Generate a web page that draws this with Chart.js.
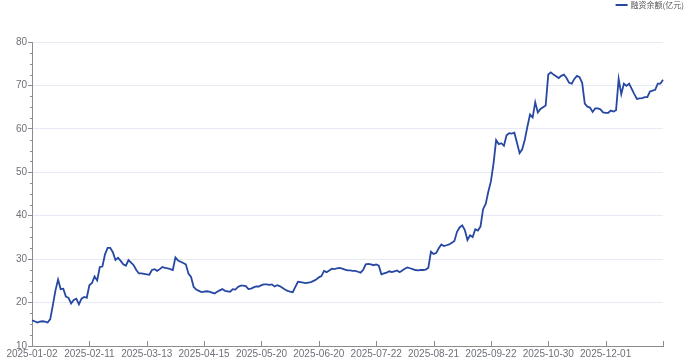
<!DOCTYPE html>
<html>
<head>
<meta charset="utf-8">
<script src="https://cdn.jsdelivr.net/npm/chart.js@4/dist/chart.umd.min.js"></script>
<style>
html,body{margin:0;padding:0;background:#fff;}
#wrap{width:693px;height:362px;position:relative;}
</style>
</head>
<body>
<div id="wrap"><canvas id="c"></canvas></div>
<script>
// Series name
const seriesName = '融资余额(亿元)';

// 2025 A-share market holidays falling on weekdays (market closed)
const holidays = ['2025-01-01','2025-01-28','2025-01-29','2025-01-30','2025-01-31','2025-02-03','2025-02-04',
  '2025-04-04','2025-05-01','2025-05-02','2025-05-05','2025-06-02',
  '2025-10-01','2025-10-02','2025-10-03','2025-10-06','2025-10-07','2025-10-08'];

// Categories: trading days of 2025
const categories = [];
(function(){
  const d = new Date(Date.UTC(2025,0,1));
  while (d.getUTCFullYear() === 2025) {
    const s = d.toISOString().slice(0,10);
    const w = d.getUTCDay();
    if (w !== 0 && w !== 6 && holidays.indexOf(s) < 0) categories.push(s);
    d.setUTCDate(d.getUTCDate()+1);
  }
})();

// Values (亿元)
const values = [
15.9,15.7,15.4,15.6,15.7,15.6,15.4,16.2,19.4,22.8,
25.3,23.1,23.2,21.4,21.1,19.8,20.6,20.9,19.6,20.9,
21.3,21.1,24.0,24.5,26.0,25.1,28.2,28.3,31.1,32.6,
32.6,31.6,29.8,30.3,29.6,28.8,28.5,29.8,29.2,28.6,
27.5,26.7,26.7,26.6,26.5,26.4,27.5,27.7,27.3,27.7,
28.2,28.0,27.9,27.7,27.5,30.4,29.7,29.4,29.1,28.8,
26.7,25.9,23.6,23.0,22.7,22.4,22.5,22.6,22.5,22.3,
22.1,22.5,22.8,23.1,22.7,22.6,22.5,23.1,23.0,23.6,
23.9,23.9,23.8,23.1,23.2,23.5,23.7,23.7,24.0,24.2,
24.2,24.1,24.2,23.7,24.0,23.8,23.4,23.0,22.7,22.5,
22.4,23.6,24.8,24.7,24.6,24.5,24.6,24.7,25.0,25.3,
25.8,26.1,27.3,27.0,27.4,27.8,27.7,27.9,28.0,27.8,
27.6,27.4,27.4,27.3,27.3,27.1,26.9,27.5,28.8,28.9,
28.8,28.6,28.8,28.5,26.5,26.7,26.9,27.2,27.0,27.2,
27.4,27.0,27.4,27.8,28.1,27.9,27.7,27.5,27.4,27.5,
27.5,27.6,28.0,31.7,31.2,31.4,32.5,33.4,33.0,33.2,
33.4,33.8,34.2,36.3,37.3,37.8,36.7,34.4,35.5,35.1,
36.9,36.6,37.5,41.5,42.7,45.5,47.9,52.0,57.4,56.5,
56.7,56.1,58.5,59.0,58.9,59.1,56.8,54.4,55.3,57.5,
60.5,63.3,62.6,66.1,63.8,64.6,65.0,65.4,72.5,73.0,
72.5,72.1,71.7,72.2,72.5,71.7,70.6,70.4,71.5,72.2,
71.9,70.6,65.8,65.1,64.9,63.9,64.7,64.7,64.5,63.8,
63.7,63.7,64.2,64.0,64.3,71.5,68.0,70.4,69.9,70.4,
69.2,68.0,66.9,67.0,67.1,67.3,67.3,68.6,68.8,69.0,
70.4,70.4,71.3
];

// Y axis tick range
const yMin = 10, yMax = 80, yMajor = 10, yMinor = 2.5;
// Every Nth category gets a label
const labelEvery = 22;

const lineColor = '#2648A3';
const axisColor = '#8C8C8C';
const textColor = '#6E7079';

const axisTicks = {
  id: 'axisTicks',
  afterDraw(chart){
    const x = chart.scales.x, y = chart.scales.y, ctx = chart.ctx;
    const bottom = chart.chartArea.bottom, left = chart.chartArea.left;
    ctx.save();
    ctx.strokeStyle = axisColor;
    ctx.lineWidth = 1;
    ctx.beginPath();
    for (let i = 0; i < categories.length; i++) {
      if (i % labelEvery === 0 || i === categories.length - 1) {
        const px = Math.round(x.getPixelForValue(i)) + 0.5;
        ctx.moveTo(px, bottom);
        ctx.lineTo(px, bottom - 5);
      }
    }
    y.ticks.forEach(t => {
      if (t.value % yMajor !== 0) {
        const py = Math.round(y.getPixelForValue(t.value)) + 0.5;
        ctx.moveTo(left, py);
        ctx.lineTo(left - 2, py);
      }
    });
    ctx.stroke();
    ctx.restore();
  }
};

const legendPlugin = {
  id: 'legendPlugin',
  afterDraw(chart){
    const ctx = chart.ctx;
    ctx.save();
    ctx.font = '8px "Noto Sans CJK SC", sans-serif';
    const tw = ctx.measureText(seriesName).width;
    const right = 684;
    const tx = right - tw;
    const y = 5;
    ctx.strokeStyle = lineColor;
    ctx.lineWidth = 2;
    ctx.beginPath();
    ctx.moveTo(tx - 15, y);
    ctx.lineTo(tx - 3, y);
    ctx.stroke();
    ctx.fillStyle = '#555';
    ctx.textBaseline = 'middle';
    ctx.textAlign = 'left';
    ctx.fillText(seriesName, tx, y);
    ctx.restore();
  }
};

new Chart(document.getElementById('c'), {
  type: 'line',
  data: {
    labels: categories,
    datasets: [{
      label: seriesName,
      data: values,
      borderColor: lineColor,
      backgroundColor: lineColor,
      borderWidth: 1.8,
      pointRadius: 0,
      tension: 0,
      fill: false
    }]
  },
  options: {
    responsive: true,
    maintainAspectRatio: false,
    animation: false,
    layout: { padding: { top: 42, right: 30, left: 0, bottom: 0 } },
    plugins: { legend: { display: false }, tooltip: { enabled: false } },
    scales: {
      x: {
        type: 'category',
        offset: false,
        afterFit(s){ s.height = 16; },
        border: { display: true, color: axisColor, width: 1 },
        grid: { display: false, drawTicks: false, tickLength: 0 },
        ticks: {
          autoSkip: false,
          maxRotation: 0,
          minRotation: 0,
          padding: 2,
          color: textColor,
          font: { family: '"Liberation Sans", Arial, sans-serif', size: 10 },
          callback(v, i){ return (i % labelEvery === 0 && i < categories.length - 1) ? categories[i] : null; }
        }
      },
      y: {
        min: yMin,
        max: yMax,
        afterFit(s){ s.width = 32; },
        border: { display: true, color: axisColor, width: 1 },
        grid: {
          color(ctx){ return (ctx.tick && ctx.tick.value % yMajor === 0 && ctx.tick.value !== yMin) ? '#E6EBF3' : 'rgba(0,0,0,0)'; },
          tickColor(ctx){ return (ctx.tick && ctx.tick.value % yMajor === 0) ? axisColor : 'rgba(0,0,0,0)'; },
          tickLength: 4,
          drawTicks: true
        },
        ticks: {
          stepSize: yMinor,
          autoSkip: false,
          padding: 1,
          color: textColor,
          font: { family: '"Liberation Sans", Arial, sans-serif', size: 10 },
          callback(v){ return (v % yMajor === 0) ? String(v) : ''; }
        }
      }
    }
  },
  plugins: [axisTicks, legendPlugin]
});
</script>
</body>
</html>
